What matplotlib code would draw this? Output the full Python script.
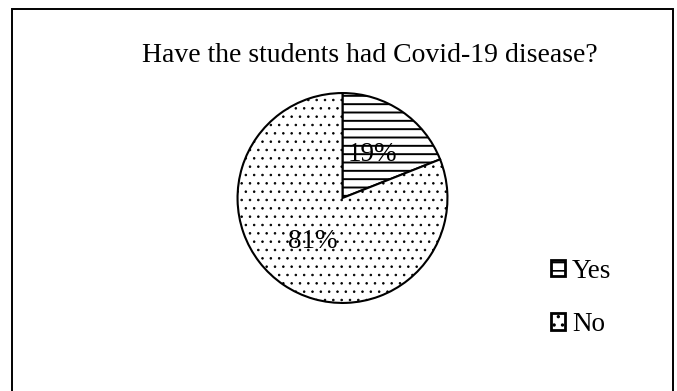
import matplotlib
matplotlib.use("Agg")
import matplotlib.pyplot as plt
from matplotlib.patches import Rectangle

title = "Have the students had Covid-19 disease?"
labels = ["Yes", "No"]
shares = [19, 81]
hatches = ["--", ".."]
hatch_widths = [1.4, 0.6]

plt.rcParams["font.family"] = ["Liberation Serif", "DejaVu Serif"]
plt.rcParams["hatch.linewidth"] = 1.2

fig = plt.figure(figsize=(6.77, 3.91), dpi=100)

# outer frame (bottom edge runs off the canvas)
fig.add_artist(Rectangle((11.5 / 677, -0.05), (673 - 11.5) / 677, 1.05 - 8.5 / 391,
                         transform=fig.transFigure, fill=False,
                         edgecolor="black", linewidth=1.4))

fig.text(370 / 677, 1 - 56 / 391, title, ha="center", va="center", fontsize=20)

ax = fig.add_axes([236 / 677, 1 - 304 / 391, 213 / 677, 212 / 391])
wedges, texts, autotexts = ax.pie(
    shares, startangle=90, counterclock=False,
    autopct=lambda p: "%d%%" % round(p), pctdistance=0.5,
    wedgeprops=dict(facecolor="white", edgecolor="black", linewidth=1.5),
    textprops=dict(fontsize=19.5))
for w, h, lw in zip(wedges, hatches, hatch_widths):
    w.set_hatch(h)
    if hasattr(w, "set_hatch_linewidth"):
        w.set_hatch_linewidth(lw)
ax.set_xlim(-1.01, 1.01)
ax.set_ylim(-1.01, 1.01)
ax.set_aspect("equal")

leg = fig.legend(wedges, labels, loc="upper left",
                 bbox_to_anchor=(537 / 677, 1 - 245 / 391),
                 frameon=False, fontsize=19.5, borderpad=0, handlelength=0.55,
                 handleheight=0.55, handletextpad=0.25, labelspacing=1.05)
for p in leg.get_patches():
    p.set_linewidth(2)

fig.savefig("out.png", dpi=100)
